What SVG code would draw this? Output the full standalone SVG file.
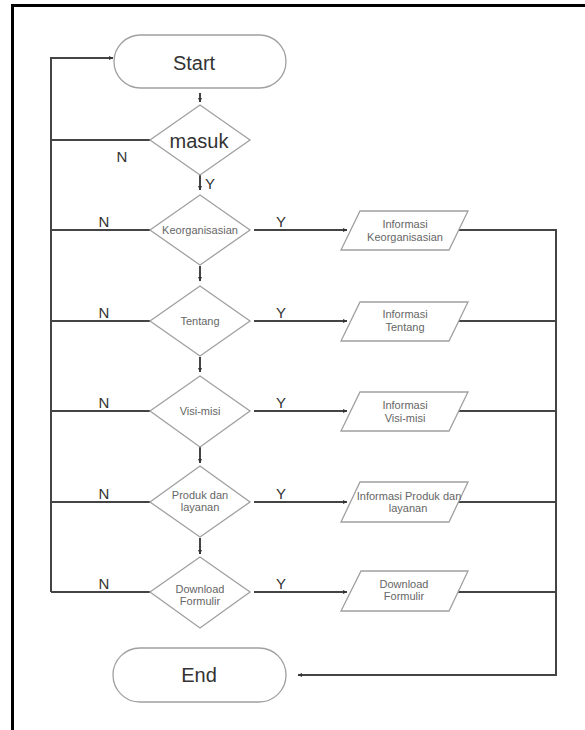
<svg xmlns="http://www.w3.org/2000/svg" width="585" height="730" viewBox="0 0 585 730">
<style>
.shape{fill:#fff;stroke:#a0a0a0;stroke-width:1.3}
.conn{fill:none;stroke:#444;stroke-width:2}
.big{font-family:"Liberation Sans",Arial,sans-serif;font-size:20px;fill:#333;text-anchor:middle}
.small{font-family:"Liberation Sans",Arial,sans-serif;font-size:11px;fill:#666;text-anchor:middle}
.lbl{font-family:"Liberation Sans",Arial,sans-serif;font-size:15px;fill:#333;text-anchor:middle}
</style>
<defs>
<marker id="arr" viewBox="0 0 6 6" refX="6" refY="3" markerWidth="4" markerHeight="4" orient="auto" markerUnits="userSpaceOnUse">
<path d="M0,0 L6,3 L0,6 z" fill="#333"/>
</marker>
</defs>
<rect width="585" height="730" fill="#fff"/>
<g id="frame">
<line x1="11" y1="5.5" x2="585" y2="5.5" stroke="#000" stroke-width="3"/>
<line x1="12.5" y1="4" x2="12.5" y2="730" stroke="#000" stroke-width="3"/>
</g>
<g id="connectors">
<path class="conn" d="M200,93 V102" marker-end="url(#arr)"/>
<path class="conn" d="M51,592 V58 H113" marker-end="url(#arr)"/>
<path class="conn" d="M51,140 H150"/>
<path class="conn" d="M200,175 V190" marker-end="url(#arr)"/>
<path class="conn" d="M51,230 H150"/>
<path class="conn" d="M51,321 H150"/>
<path class="conn" d="M51,411 H150"/>
<path class="conn" d="M51,502 H150"/>
<path class="conn" d="M51,592 H150"/>
<path class="conn" d="M200,266 V281" marker-end="url(#arr)"/>
<path class="conn" d="M200,357 V372" marker-end="url(#arr)"/>
<path class="conn" d="M200,447 V463" marker-end="url(#arr)"/>
<path class="conn" d="M200,538 V554" marker-end="url(#arr)"/>
<path class="conn" d="M254,230 H347" marker-end="url(#arr)"/>
<path class="conn" d="M254,321 H347" marker-end="url(#arr)"/>
<path class="conn" d="M254,411 H347" marker-end="url(#arr)"/>
<path class="conn" d="M254,502 H347" marker-end="url(#arr)"/>
<path class="conn" d="M254,592 H347" marker-end="url(#arr)"/>
<path class="conn" d="M458,230 H556 V675 H298" marker-end="url(#arr)"/>
<path class="conn" d="M458,321 H556"/>
<path class="conn" d="M458,411 H556"/>
<path class="conn" d="M458,502 H556"/>
<path class="conn" d="M458,592 H556"/>
<text class="lbl" x="122" y="162">N</text>
<text class="lbl" x="210" y="189">Y</text>
<text class="lbl" x="104" y="227">N</text>
<text class="lbl" x="281" y="227">Y</text>
<text class="lbl" x="104" y="318">N</text>
<text class="lbl" x="281" y="318">Y</text>
<text class="lbl" x="104" y="408">N</text>
<text class="lbl" x="281" y="408">Y</text>
<text class="lbl" x="104" y="499">N</text>
<text class="lbl" x="281" y="499">Y</text>
<text class="lbl" x="104" y="589">N</text>
<text class="lbl" x="281" y="589">Y</text>
</g>
<g id="start">
<rect class="shape" x="114" y="35" width="172" height="53" rx="26.5"/>
<text class="big" x="194" y="70">Start</text>
</g>
<g id="masuk">
<polygon class="shape" points="200,105 250,140 200,175 150,140"/>
<text class="big" x="199" y="148">masuk</text>
</g>
<g id="keorganisasian">
<polygon class="shape" points="200,195 250,230 200,265 150,230"/>
<text class="small" x="200" y="234">Keorganisasian</text>
</g>
<g id="info-keorganisasian">
<polygon class="shape" points="360,211 468,211 449,250 341,250"/>
<text class="small" x="405" y="228">Informasi</text>
<text class="small" x="405" y="241">Keorganisasian</text>
</g>
<g id="tentang">
<polygon class="shape" points="200,286 250,321 200,356 150,321"/>
<text class="small" x="200" y="325">Tentang</text>
</g>
<g id="info-tentang">
<polygon class="shape" points="360,302 468,302 449,341 341,341"/>
<text class="small" x="405" y="318">Informasi</text>
<text class="small" x="405" y="331">Tentang</text>
</g>
<g id="visi-misi">
<polygon class="shape" points="200,376 250,411 200,447 150,411"/>
<text class="small" x="200" y="415">Visi-misi</text>
</g>
<g id="info-visi-misi">
<polygon class="shape" points="360,392 468,392 449,431 341,431"/>
<text class="small" x="405" y="409">Informasi</text>
<text class="small" x="405" y="422">Visi-misi</text>
</g>
<g id="produk">
<polygon class="shape" points="200,466 250,502 200,537 150,502"/>
<text class="small" x="200" y="499">Produk dan</text>
<text class="small" x="200" y="511">layanan</text>
</g>
<g id="info-produk">
<polygon class="shape" points="360,482 468,482 449,522 341,522"/>
<text class="small" x="409" y="500">Informasi Produk dan</text>
<text class="small" x="408" y="512">layanan</text>
</g>
<g id="download">
<polygon class="shape" points="200,557 250,592 200,628 150,592"/>
<text class="small" x="200" y="593">Download</text>
<text class="small" x="200" y="605">Formulir</text>
</g>
<g id="download-formulir">
<polygon class="shape" points="361,571 468,571 449,611 341,611"/>
<text class="small" x="404" y="588">Download</text>
<text class="small" x="404" y="600">Formulir</text>
</g>
<g id="end">
<rect class="shape" x="113" y="648" width="173" height="54" rx="27"/>
<text class="big" x="199" y="682">End</text>
</g>
</svg>
